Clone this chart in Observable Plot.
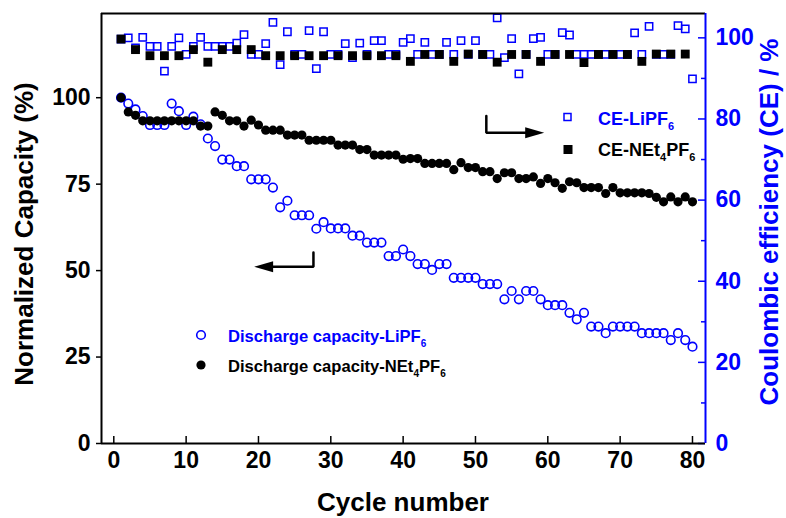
<!DOCTYPE html>
<html>
<head>
<meta charset="utf-8">
<style>
  html, body { margin: 0; padding: 0; background: #fff; }
  #chart { width: 786px; height: 518px; }
</style>
<script src="https://cdn.jsdelivr.net/npm/d3@7"></script>
<script src="https://cdn.jsdelivr.net/npm/@observablehq/plot@0.6"></script>
</head>
<body>
<div id="chart"></div>
<script>
// ---------------- DATA ----------------
const cycles = d3.range(1, 81);

// Discharge capacity (normalized, %) – LiPF6 (open blue circles)
const capLiPF6 = [
  100, 98.3, 96.6, 94.7, 92.1, 92.1, 92.1, 98.3, 96.1, 92.1,
  94.5, 92.3, 88.2, 86.0, 82.1, 82.1, 80.2, 80.2, 76.4, 76.4,
  76.4, 74.0, 68.3, 70.2, 66.0, 66.0, 66.0, 62.1, 64.0, 62.2,
  62.2, 62.2, 60.1, 60.1, 58.1, 58.1, 58.1, 54.2, 54.2, 56.1,
  54.2, 51.9, 51.9, 50.2, 51.9, 51.9, 47.9, 47.9, 47.9, 47.9,
  46.1, 46.1, 46.1, 41.7, 44.1, 41.7, 44.1, 44.1, 41.7, 40.0,
  40.0, 40.0, 37.8, 35.9, 37.8, 33.8, 33.8, 31.9, 33.8, 33.8,
  33.8, 33.8, 31.9, 31.9, 31.9, 31.9, 29.9, 31.9, 29.9, 28.0
];

// Discharge capacity (normalized, %) – NEt4PF6 (filled black circles)
const capNEt4PF6 = [
  100, 95.9, 94.9, 93.3, 93.3, 93.3, 93.3, 93.3, 93.3, 93.3,
  93.3, 91.8, 91.8, 95.9, 94.9, 93.3, 93.3, 91.8, 93.5, 92.1,
  90.6, 90.6, 90.6, 89.2, 89.2, 89.2, 87.7, 87.7, 87.7, 87.7,
  86.3, 86.3, 86.3, 85.0, 85.0, 83.4, 83.4, 83.4, 83.4, 82.2,
  82.4, 82.4, 81.0, 81.0, 81.0, 81.0, 79.2, 81.2, 79.8, 79.8,
  78.6, 78.6, 76.6, 78.3, 78.3, 76.6, 76.6, 77.1, 75.2, 76.6,
  75.4, 73.8, 75.7, 75.4, 74.0, 74.0, 74.0, 72.3, 74.0, 72.5,
  72.5, 72.5, 72.5, 72.3, 71.2, 69.9, 71.3, 69.9, 71.3, 69.9
];

// Coulombic efficiency (%) – LiPF6 (open blue squares), every cycle
const ceLiPF6 = [
  99.7, 100.0, 97.5, 100.1, 97.9, 97.9, 91.8, 97.9, 100.0, 95.9,
  97.9, 100.1, 97.9, 97.9, 97.9, 97.9, 98.7, 100.8, 95.9, 95.9,
  98.6, 103.8, 93.4, 101.5, 95.9, 95.9, 101.8, 92.4, 101.5, 95.9,
  95.9, 98.6, 95.1, 98.7, 95.9, 99.3, 99.3, 95.9, 95.9, 98.9,
  99.8, 95.9, 98.9, 95.9, 95.9, 98.9, 95.9, 99.3, 95.9, 99.3,
  95.9, 95.9, 104.9, 95.1, 99.8, 91.1, 95.9, 99.8, 100.1, 95.9,
  95.9, 101.3, 100.7, 95.9, 95.9, 95.9, 95.9, 95.9, 95.9, 95.9,
  95.9, 101.2, 95.9, 102.8, 95.9, 95.9, 95.9, 103.0, 102.2, 89.9
];

// Coulombic efficiency (%) – NEt4PF6 (filled black squares), every other cycle
const ceCyclesNEt4PF6 = d3.range(1, 80, 2);
const ceNEt4PF6 = [
  99.7, 97.1, 95.6, 95.6, 95.6, 97.1, 94.0, 97.1, 97.1, 97.1,
  95.6, 95.6, 95.6, 95.6, 95.6, 95.6, 95.6, 95.6, 95.6, 95.6,
  94.2, 95.9, 95.9, 94.2, 96.0, 95.9, 94.0, 95.9, 95.9, 94.2,
  95.9, 95.9, 93.9, 95.9, 95.9, 95.9, 94.2, 96.0, 96.0, 96.0
];

// Axes
const xTicks = [0, 10, 20, 30, 40, 50, 60, 70, 80];
const capTicks = [0, 25, 50, 75, 100];
const ceTicks = [0, 20, 40, 60, 80, 100];
const ceMinorTicks = [10, 30, 50, 70, 90];
const xDomain = [-1.7, 81.8];
const capDomain = [0, 124.35];
const ceDomain = [0, 106];

// Annotation arrows (data units: cycle, normalized capacity)
const arrowRightPath = [{x: 51.5, y: 94.7}, {x: 51.5, y: 89.9}, {x: 57.1, y: 89.9}];
const arrowRightTip = [{x: 59.5, y: 89.9}];
const arrowLeftPath = [{x: 27.6, y: 55.2}, {x: 27.6, y: 51.1}, {x: 21.8, y: 51.1}];
const arrowLeftTip = [{x: 19.4, y: 51.1}];

// Texts
const xTitle = "Cycle number";
const yTitle = "Normalized Capacity (%)";
const y2Title = "Coulombic efficiency (CE) / %";
const legendDischarge = [
  [["Discharge capacity-LiPF", false], ["6", true]],
  [["Discharge capacity-NEt", false], ["4", true], ["PF", false], ["6", true]]
];
const legendCE = [
  [["CE-LiPF", false], ["6", true]],
  [["CE-NEt", false], ["4", true], ["PF", false], ["6", true]]
];

// ---------------- CHART ----------------
const BLUE = "#0000ff";
const FONT = "'Liberation Sans', Arial, Helvetica, sans-serif";
const W = 786, H = 518, mL = 101, mR = 81, mT = 13, mB = 75;
const innerW = W - mL - mR, innerH = H - mT - mB;
const k = capDomain[1] / ceDomain[1];

const capLiRows = cycles.map((c, i) => ({cycle: c, v: capLiPF6[i]}));
const capNRows = cycles.map((c, i) => ({cycle: c, v: capNEt4PF6[i]}));
const ceLiRows = cycles.map((c, i) => ({cycle: c, v: ceLiPF6[i]}));
const ceNRows = ceCyclesNEt4PF6.map((c, i) => ({cycle: c, v: ceNEt4PF6[i]}));

const headRight = {draw(ctx) { ctx.moveTo(0, 0); ctx.lineTo(-19, -5.5); ctx.lineTo(-19, 5.5); ctx.closePath(); }};
const headLeft = {draw(ctx) { ctx.moveTo(0, 0); ctx.lineTo(19, -5.5); ctx.lineTo(19, 5.5); ctx.closePath(); }};

const chart = Plot.plot({
  width: W, height: H,
  marginLeft: mL, marginRight: mR, marginTop: mT, marginBottom: mB,
  style: {fontFamily: FONT, fontSize: "23px", fontWeight: "bold", background: "white", color: "black", overflow: "visible"},
  x: {domain: xDomain},
  y: {domain: capDomain},
  marks: [
    Plot.dot(ceLiRows, {x: "cycle", y: d => d.v * k, symbol: "square", r: 4.1, stroke: BLUE, strokeWidth: 1.5, fill: "none"}),
    Plot.dot(ceNRows, {x: "cycle", y: d => d.v * k, symbol: "square", r: 5.0, fill: "black", stroke: "none"}),
    Plot.dot(capLiRows, {x: "cycle", y: "v", r: 4.3, stroke: BLUE, strokeWidth: 1.6, fill: "none"}),
    Plot.dot(capNRows, {x: "cycle", y: "v", r: 4.6, fill: "black", stroke: "none"}),

    Plot.line(arrowRightPath, {x: "x", y: "y", stroke: "black", strokeWidth: 2.5, strokeLinejoin: "miter"}),
    Plot.dot(arrowRightTip, {x: "x", y: "y", symbol: headRight, fill: "black", stroke: "none"}),
    Plot.line(arrowLeftPath, {x: "x", y: "y", stroke: "black", strokeWidth: 2.5, strokeLinejoin: "miter"}),
    Plot.dot(arrowLeftTip, {x: "x", y: "y", symbol: headLeft, fill: "black", stroke: "none"}),

    Plot.tickX(xTicks, {x: d => d, insetTop: innerH - 7, strokeWidth: 1.5}),
    Plot.axisX(xTicks, {tickSize: 0, tickPadding: 8, label: null}),
    Plot.axisY(capTicks, {anchor: "left", tickSize: 5, tickPadding: 6, strokeWidth: 1.5, label: null}),
    Plot.tickY(ceTicks.map(t => t * k), {y: d => d, insetLeft: innerW - 7, stroke: BLUE, strokeWidth: 1.5}),
    Plot.tickY(ceMinorTicks.map(t => t * k), {y: d => d, insetLeft: innerW - 4, stroke: BLUE, strokeWidth: 1.5}),
    Plot.axisY(ceTicks.map(t => t * k), {anchor: "right", tickSize: 0, tickPadding: 10, color: BLUE, tickFormat: d => String(Math.round(d / k)), label: null}),

    Plot.ruleX([xDomain[0]], {stroke: "black", strokeWidth: 2}),
    Plot.ruleY([capDomain[1]], {stroke: "black", strokeWidth: 2}),
    Plot.ruleY([0], {stroke: "black", strokeWidth: 2}),
    Plot.ruleX([xDomain[1]], {stroke: BLUE, strokeWidth: 2})
  ]
});

document.getElementById("chart").appendChild(chart);

// ---------------- TITLES & LEGEND ----------------
const svg = d3.select(chart);
const g = svg.append("g").attr("font-family", FONT).attr("font-weight", "bold").attr("text-anchor", "start");

function rich(parent, parts, size, color) {
  const t = parent.append("text").attr("fill", color).attr("font-size", size).attr("text-anchor", "start");
  let shifted = false;
  const shift = Math.round(size * 0.28);
  parts.forEach(([s, sub]) => {
    const ts = t.append("tspan").text(s);
    if (sub) { ts.attr("font-size", Math.round(size * 0.62)); if (!shifted) { ts.attr("dy", shift); shifted = true; } }
    else { ts.attr("font-size", size); if (shifted) { ts.attr("dy", -shift); shifted = false; } }
  });
  return t;
}

g.append("text").attr("x", 403).attr("y", 511).attr("text-anchor", "middle").attr("font-size", 26).attr("fill", "black").text(xTitle);
g.append("text").attr("transform", "translate(33,234) rotate(-90)").attr("text-anchor", "middle").attr("font-size", 26).attr("fill", "black").text(yTitle);
g.append("text").attr("transform", "translate(778,222) rotate(-90)").attr("text-anchor", "middle").attr("font-size", 26).attr("fill", BLUE).text(y2Title);

// Discharge legend
g.append("circle").attr("cx", 201).attr("cy", 335).attr("r", 4.3).attr("fill", "none").attr("stroke", BLUE).attr("stroke-width", 1.6);
rich(g, legendDischarge[0], 16.6, BLUE).attr("x", 228).attr("y", 341.5);
g.append("circle").attr("cx", 201).attr("cy", 365).attr("r", 4.6).attr("fill", "black");
rich(g, legendDischarge[1], 16.6, "black").attr("x", 228).attr("y", 372);

// CE legend
g.append("rect").attr("x", 564).attr("y", 113.5).attr("width", 7).attr("height", 7).attr("fill", "none").attr("stroke", BLUE).attr("stroke-width", 1.5);
rich(g, legendCE[0], 18, BLUE).attr("x", 598).attr("y", 125);
g.append("rect").attr("x", 563.5).attr("y", 145).attr("width", 9).attr("height", 9).attr("fill", "black");
rich(g, legendCE[1], 18, "black").attr("x", 598).attr("y", 156);
</script>
</body>
</html>
